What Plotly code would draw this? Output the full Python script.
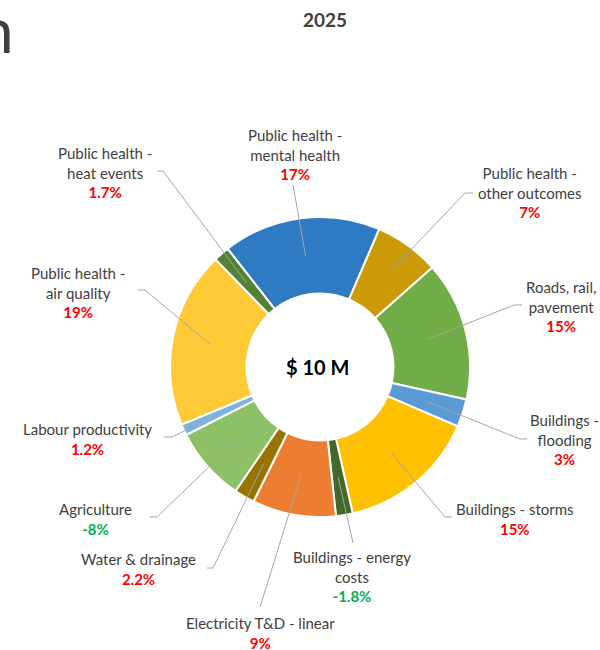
import math
import plotly.graph_objects as go

# ---------------- data ----------------
categories = [
    "Public health - mental health",
    "Public health - other outcomes",
    "Roads, rail, pavement",
    "Buildings - flooding",
    "Buildings - storms",
    "Buildings - energy costs",
    "Electricity T&D - linear",
    "Water & drainage",
    "Agriculture",
    "Labour productivity",
    "Public health - air quality",
    "Public health - heat events",
]
label_text = [
    "Public health -<br>mental health",
    "Public health -<br>other outcomes",
    "Roads, rail,<br>pavement",
    "Buildings -<br>flooding",
    "Buildings - storms",
    "Buildings - energy<br>costs",
    "Electricity T&D - linear",
    "Water & drainage",
    "Agriculture",
    "Labour productivity",
    "Public health -<br>air quality",
    "Public health -<br>heat events",
]
shares = [17, 7, 15, 3, 15, -1.8, 9, 2.2, -8, 1.2, 19, 1.7]
pct_labels = ["17%", "7%", "15%", "3%", "15%", "-1.8%", "9%", "2.2%", "-8%", "1.2%", "19%", "1.7%"]
total_label = "$ 10 M"
title_text = "2025"

# ---------------- styles / layout ----------------
colors = ["#2E7BC3", "#CC9A06", "#70AD47", "#5B9BD5", "#FFC000", "#43682B",
          "#ED7D31", "#997300", "#8CC168", "#7EB2E0", "#FFCA35", "#548235"]
W, H = 600, 650
CX, CY, R = 320, 367, 150
HOLE = 0.49
ROTATION = -38
R_LINE = 112

# label block centres (px)
label_pos = [(295, 154), (530, 193), (561, 306), (564, 439), (515, 519), (352, 576),
             (260, 633), (138, 569), (95, 519), (87, 439), (78, 292), (105, 172)]
# leader line outer points (px): elbow then end
leader_pts = [
    [(293, 185)],
    [(465, 193), (473, 193)],
    [(514, 305), (522, 305)],
    [(520, 439), (527, 439)],
    [(445, 517), (452, 517)],
    [(353, 543)],
    [(260, 607)],
    [(213, 568), (207, 568)],
    [(157, 517), (150, 517)],
    [(172, 437), (164, 437)],
    [(145, 290), (138, 290)],
    [(163, 171), (157, 171)],
]

FONT = "Lato, 'Open Sans', sans-serif"
TEXT_COL = "#404040"


def px2paper(x, y):
    return x / W, 1 - y / H


values = [abs(v) for v in shares]
tot = sum(values)

fig = go.Figure()
fig.add_trace(go.Pie(
    labels=categories,
    values=values,
    sort=False,
    direction="clockwise",
    rotation=ROTATION,
    hole=HOLE,
    textinfo="none",
    hoverinfo="label+value",
    marker=dict(colors=colors, line=dict(color="white", width=2)),
    domain=dict(x=[(CX - R) / W, (CX + R) / W], y=[1 - (CY + R) / H, 1 - (CY - R) / H]),
    showlegend=False,
))

shapes = []
annotations = []
cum = 0.0
for i, v in enumerate(values):
    mid = math.radians(ROTATION + (cum + v / 2) / tot * 360)
    cum += v
    sx = CX + R_LINE * math.sin(mid)
    sy = CY - R_LINE * math.cos(mid)
    pts = [(sx, sy)] + leader_pts[i]
    path = ""
    for j, (x, y) in enumerate(pts):
        X, Y = px2paper(x, y)
        path += ("M" if j == 0 else " L") + f" {X:.5f},{Y:.5f}"
    shapes.append(dict(type="path", path=path, xref="paper", yref="paper",
                       line=dict(color="#A6A6A6", width=1)))
    pcol = "#00B050" if shares[i] < 0 else "#FF0000"
    lx, ly = px2paper(*label_pos[i])
    annotations.append(dict(
        x=lx, y=ly, xref="paper", yref="paper", xanchor="center", yanchor="middle",
        showarrow=False, align="center",
        text=f"{label_text[i]}<br><b><span style='color:{pcol}'>{pct_labels[i]}</span></b>",
        font=dict(family=FONT, size=15, color=TEXT_COL),
    ))

# centre total
tx, ty = px2paper(CX - 3, CY)
annotations.append(dict(x=tx, y=ty, xref="paper", yref="paper", showarrow=False,
                        text=f"<b>{total_label}</b>", xanchor="center", yanchor="middle",
                        font=dict(family=FONT, size=20, color="#000000")))
# title
tx, ty = px2paper(325, 19)
annotations.append(dict(x=tx, y=ty, xref="paper", yref="paper", showarrow=False,
                        text=f"<b>{title_text}</b>", xanchor="center", yanchor="middle",
                        font=dict(family=FONT, size=19, color="#404040")))
# fragment of a cut-off heading at top-left
tx, ty = px2paper(16, 29)
annotations.append(dict(x=tx, y=ty, xref="paper", yref="paper", showarrow=False,
                        text="n", xanchor="right", yanchor="middle",
                        font=dict(family=FONT, size=62, color="#404040")))

fig.update_layout(
    width=W, height=H,
    margin=dict(l=0, r=0, t=0, b=0),
    paper_bgcolor="white", plot_bgcolor="white",
    shapes=shapes, annotations=annotations,
)

fig.write_html("out.html", config={"displayModeBar": False},
               post_script="document.body.style.margin='0';document.body.style.overflow='hidden';")
